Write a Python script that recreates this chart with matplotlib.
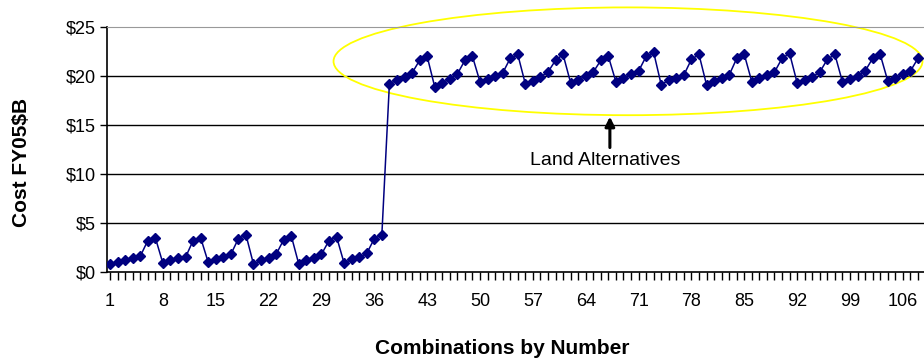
import numpy as np
import matplotlib
matplotlib.use('Agg')
import matplotlib.pyplot as plt
from matplotlib.patches import Ellipse

# combinations 1-37 (sea / non-land options), cost FY05 $B
low_costs = [0.8, 1.0, 1.2, 1.4, 1.6, 3.2, 3.5,
             0.9, 1.2, 1.4, 1.5, 3.2, 3.5,
             1.0, 1.3, 1.5, 1.8, 3.4, 3.8,
             0.8, 1.2, 1.4, 1.8, 3.3, 3.7,
             0.8, 1.2, 1.4, 1.8, 3.2, 3.6,
             0.9, 1.3, 1.5, 1.9, 3.4, 3.8]
# combinations 38-108 (land alternatives)
land_costs = [19.2, 19.6, 19.9, 20.3, 21.6, 22.0,
              18.9, 19.3, 19.7, 20.2, 21.6, 22.0,
              19.4, 19.7, 20.0, 20.3, 21.8, 22.2,
              19.2, 19.5, 19.9, 20.4, 21.6, 22.2,
              19.3, 19.6, 20.0, 20.4, 21.6, 22.0,
              19.4, 19.8, 20.2, 20.5, 22.0, 22.4,
              19.1, 19.6, 19.8, 20.1, 21.7, 22.2,
              19.1, 19.5, 19.8, 20.1, 21.8, 22.2,
              19.4, 19.8, 20.1, 20.4, 21.8, 22.3,
              19.3, 19.6, 19.9, 20.4, 21.7, 22.2,
              19.4, 19.7, 20.0, 20.5, 21.8, 22.2,
              19.5, 19.8, 20.2, 20.5, 21.8]
costs = low_costs + land_costs
combos = np.arange(1, len(costs) + 1)
xtick_labels = list(range(1, 107, 7))
ytick_vals = [0, 5, 10, 15, 20, 25]

plt.rcParams['font.family'] = ['Liberation Sans', 'DejaVu Sans']
navy = '#000080'

fig = plt.figure(figsize=(9.24, 3.6), dpi=100)
ax = fig.add_axes([107 / 924, 1 - 272 / 360, 817 / 924, 245 / 360])

ax.plot(combos, costs, color=navy, linewidth=1.1, marker='D', markersize=5.5,
        markerfacecolor=navy, markeredgecolor=navy, zorder=3)

ax.set_xlim(0.6, 108.8)
ax.set_ylim(0, 25)
ax.set_yticks(ytick_vals)
ax.set_yticklabels(['$' + str(v) for v in ytick_vals], fontsize=13)
ax.set_xticks(combos, minor=True)
ax.set_xticks(xtick_labels)
ax.set_xticklabels([str(v) for v in xtick_labels], fontsize=13)
ax.tick_params(axis='x', which='both', direction='out', length=6, width=1,
               color='black', pad=9)
ax.tick_params(axis='y', direction='out', length=5, width=1, pad=3)
for v in ytick_vals[1:-1]:
    ax.axhline(v, color='black', linewidth=1, zorder=1)
ax.spines['right'].set_visible(False)
ax.spines['top'].set_color('#999999')
ax.spines['left'].set_linewidth(1.2)
ax.spines['bottom'].set_linewidth(1.2)

# yellow ellipse around the land alternatives
ell = Ellipse((69.6, 21.5), 78, 11.0, fill=False, edgecolor='#ffff00',
              linewidth=1.3, clip_on=False, zorder=2)
ax.add_patch(ell)

ax.annotate('', xy=(67.2, 15.85), xytext=(67.2, 12.7),
            arrowprops=dict(arrowstyle='-|>', color='black', lw=2.2,
                            mutation_scale=14, shrinkA=0, shrinkB=0))
ax.text(66.6, 11.4, 'Land Alternatives', fontsize=14, ha='center', va='center')

fig.text(22 / 924, 1 - 162 / 360, 'Cost FY05$B', rotation=90, fontsize=15,
         fontweight='bold', ha='center', va='center')
fig.text(502 / 924, 1 - 348 / 360, 'Combinations by Number', fontsize=15,
         fontweight='bold', ha='center', va='center')

fig.savefig('out.png', dpi=100)
